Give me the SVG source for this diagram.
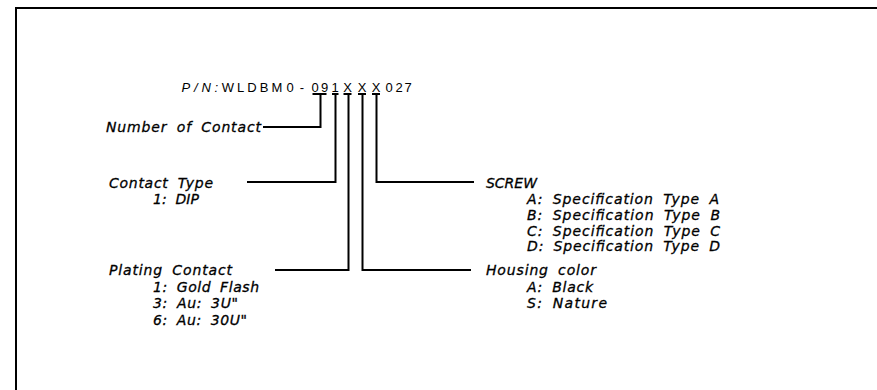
<svg xmlns="http://www.w3.org/2000/svg" width="877" height="390" viewBox="0 0 877 390">
<style>
.lbl{font-family:"DejaVu Sans","Liberation Sans",sans-serif;font-style:italic;font-size:14px;word-spacing:4px;fill:#000;stroke:#000;stroke-width:0.3}
.pn{font-family:"Liberation Sans",Arial,sans-serif;font-size:13px;fill:#000}
.ln{stroke:#000;stroke-width:2;fill:none}
</style>
<rect width="877" height="390" fill="#fff"/>
<g id="frame"><path class="ln" d="M16,390 V8 H877"/></g>
<g id="partnumber">
<text class="pn" y="92"><tspan x="181.5" font-style="italic" letter-spacing="3.8">P/N:</tspan></text>
<text class="pn" y="92" text-anchor="middle"><tspan x="228">W</tspan><tspan x="240.5">L</tspan><tspan x="252">D</tspan><tspan x="264">B</tspan><tspan x="277">M</tspan><tspan x="290">0</tspan><tspan x="302">-</tspan><tspan x="315">0</tspan><tspan x="324.5">9</tspan><tspan x="335">1</tspan><tspan x="347.5">X</tspan><tspan x="362">X</tspan><tspan x="376">X</tspan><tspan x="389">0</tspan><tspan x="399">2</tspan><tspan x="408">7</tspan></text>
</g>
<g id="connectors">
<path class="ln" d="M312.5,94 H326.5 M320.5,94 V127 H263"/>
<path class="ln" d="M332,94 H338.5 M335.5,94 V182 H247"/>
<path class="ln" d="M343.5,94 H351.5 M348.5,94 V270 H275"/>
<path class="ln" d="M358,94 H366 M362.5,94 V270 H471"/>
<path class="ln" d="M372,94 H380 M376.5,94 V182 H474"/>
</g>
<g id="number-of-contact"><text class="lbl" x="106" y="132" textLength="155" lengthAdjust="spacing">Number of Contact</text></g>
<g id="contact-type">
<text class="lbl" x="109" y="188" textLength="104" lengthAdjust="spacing">Contact Type</text>
<text class="lbl" x="153" y="204" textLength="46" lengthAdjust="spacing">1: DIP</text>
</g>
<g id="plating-contact">
<text class="lbl" x="109" y="275" textLength="123" lengthAdjust="spacing">Plating Contact</text>
<text class="lbl" x="153" y="292" textLength="106" lengthAdjust="spacing">1: Gold Flash</text>
<text class="lbl" x="153" y="308" textLength="85" lengthAdjust="spacing">3: Au: 3U"</text>
<text class="lbl" x="153" y="325" textLength="94" lengthAdjust="spacing">6: Au: 30U"</text>
</g>
<g id="screw">
<text class="lbl" x="486" y="188" textLength="51" lengthAdjust="spacing">SCREW</text>
<text class="lbl" x="527" y="204" textLength="192" lengthAdjust="spacing">A: Specification Type A</text>
<text class="lbl" x="527" y="220" textLength="193" lengthAdjust="spacing">B: Specification Type B</text>
<text class="lbl" x="527" y="236" textLength="193" lengthAdjust="spacing">C: Specification Type C</text>
<text class="lbl" x="527" y="251" textLength="193" lengthAdjust="spacing">D: Specification Type D</text>
</g>
<g id="housing-color">
<text class="lbl" x="486" y="275" textLength="110" lengthAdjust="spacing">Housing color</text>
<text class="lbl" x="527" y="292" textLength="66" lengthAdjust="spacing">A: Black</text>
<text class="lbl" x="527" y="308" textLength="80" lengthAdjust="spacing">S: Nature</text>
</g>
</svg>
